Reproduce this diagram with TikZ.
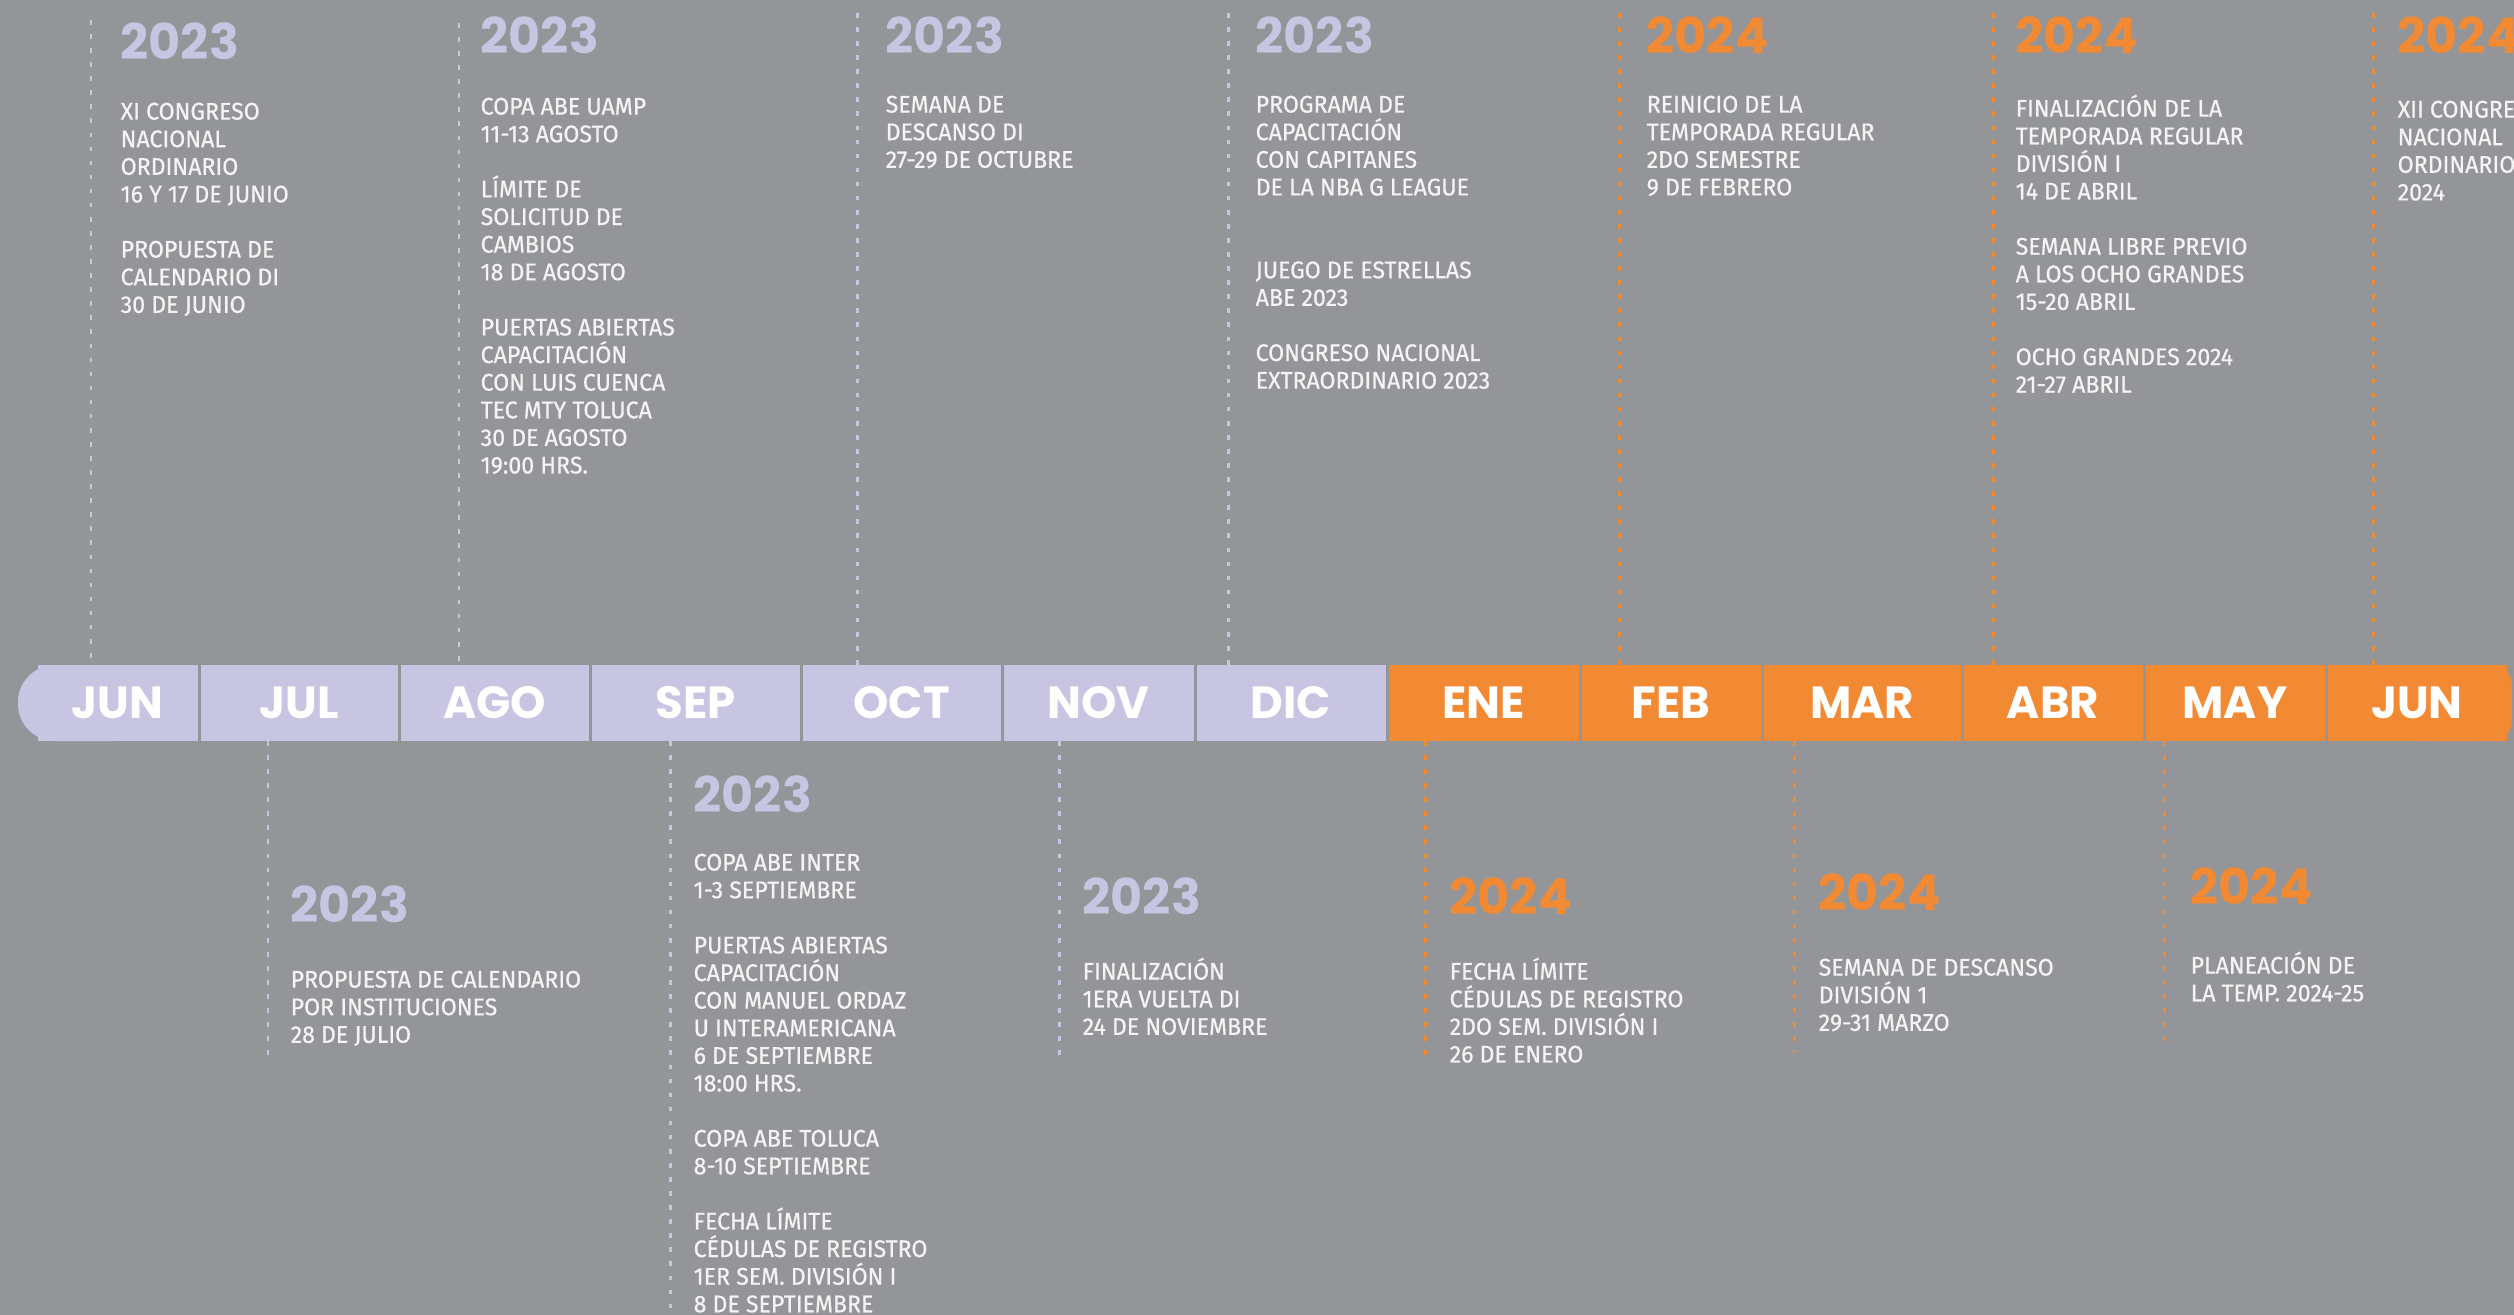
\documentclass[tikz,border=0pt]{standalone}
\usepackage{fontspec}
\newfontfamily\bodyfont{Fira Sans}[FakeStretch=0.96, FakeBold=0.6]
\newfontfamily\yearfont{Poppins}
\definecolor{bggray}{HTML}{939598}
\definecolor{lav}{HTML}{C8C5E2}
\definecolor{org}{HTML}{F28A34}
\definecolor{txt}{HTML}{F4F4F4}

\tikzset{
  tick23/.style={draw=lav, line width=0.85pt, dash pattern=on 1.3pt off 2.7pt},
  tick24/.style={tick23, draw=org},
  year23/.style={anchor=base west, inner sep=0pt, text=lav,
    font=\yearfont\bfseries\fontsize{14}{14}\selectfont},
  year24/.style={year23, text=org},
  event/.style={anchor=north west, inner sep=0pt, align=left, text=txt,
    font=\bodyfont\fontsize{6.85}{7.85}\selectfont},
  month/.style={inner sep=0pt, minimum height=0.76cm, text=white,
    font=\yearfont\bfseries\fontsize{12.8}{12.8}\selectfont}
}

\begin{document}
\begin{tikzpicture}[x=0.01cm, y=-0.01cm]
  \useasboundingbox (0,0) rectangle (2514,1315);
  \fill[bggray] (0,0) rectangle (2514,1315);
  \clip (0,0) rectangle (2514,1315);

  \coordinate (bartop) at (0,665);
  \coordinate (barbot) at (0,741);

  % dotted ticks above the bar
  \coordinate (up1) at (91,20);
  \coordinate (up2) at (459,23);
  \coordinate (up3) at (857,13);
  \coordinate (up4) at (1228,13);
  \coordinate (up5) at (1619,13);
  \coordinate (up6) at (1993,13);
  \coordinate (up7) at (2373,13);
  \draw[tick23] (up1) -- (up1 |- bartop);
  \draw[tick23] (up2) -- (up2 |- bartop);
  \draw[tick23] (up3) -- (up3 |- bartop);
  \draw[tick23] (up4) -- (up4 |- bartop);
  \draw[tick24] (up5) -- (up5 |- bartop);
  \draw[tick24] (up6) -- (up6 |- bartop);
  \draw[tick24] (up7) -- (up7 |- bartop);

  % dotted ticks below the bar
  \coordinate (dn1) at (268,1061);
  \coordinate (dn2) at (670,1315);
  \coordinate (dn3) at (1059,1056);
  \coordinate (dn4) at (1425,1061);
  \coordinate (dn5) at (1794,1052);
  \coordinate (dn6) at (2164,1045);
  \draw[tick23] (dn1 |- barbot) -- (dn1);
  \draw[tick23] (dn2 |- barbot) -- (dn2);
  \draw[tick23] (dn3 |- barbot) -- (dn3);
  \draw[tick24] (dn4 |- barbot) -- (dn4);
  \draw[tick24] (dn5 |- barbot) -- (dn5);
  \draw[tick24] (dn6 |- barbot) -- (dn6);

  % month bar
  \fill[lav, rounded corners=0.37cm] (18,665) rectangle (150,741);
  \fill[org, rounded corners=0.2cm] (2400,665) rectangle (2512,741);
  \foreach \nm/\xa/\xb/\txt/\col in {jun/36/199/JUN/lav, jul/199/399/JUL/lav,
      ago/399/590/AGO/lav, sep/590/801/SEP/lav, oct/801/1002/OCT/lav,
      nov/1002/1195/NOV/lav, dic/1195/1387/DIC/lav, ene/1387/1580/ENE/org,
      feb/1580/1762/FEB/org, mar/1762/1962/MAR/org, abr/1962/2144/ABR/org,
      may/2144/2326/MAY/org, junb/2326/2508/JUN/org}
    \node[month, fill=\col, minimum width={(\xb-\xa-3)*0.01cm}] (\nm) at ({(\xa+\xb)/2},703) {\txt};

  % events above
  \node[year23] (yr1) at (120,59) {2023};
  \node[event] (ev1) at (120,102) {XI CONGRESO\\NACIONAL\\ORDINARIO\\16 Y 17 DE JUNIO\\[7.85pt]PROPUESTA DE\\CALENDARIO DI\\30 DE JUNIO};
  \node[year23] (yr2) at (480,53) {2023};
  \node[event] (ev2) at (480,97) {COPA ABE UAMP\\11-13 AGOSTO\\[7.85pt]LÍMITE DE\\SOLICITUD DE\\CAMBIOS\\18 DE AGOSTO\\[7.85pt]PUERTAS ABIERTAS\\CAPACITACIÓN\\CON LUIS CUENCA\\TEC MTY TOLUCA\\30 DE AGOSTO\\19:00 HRS.};
  \node[year23] (yr3) at (885,53) {2023};
  \node[event] (ev3) at (885,95) {SEMANA DE\\DESCANSO DI\\27-29 DE OCTUBRE};
  \node[year23] (yr4) at (1255,53) {2023};
  \node[event] (ev4) at (1255,95) {PROGRAMA DE\\CAPACITACIÓN\\CON CAPITANES\\DE LA NBA G LEAGUE\\[15.7pt]JUEGO DE ESTRELLAS\\ABE 2023\\[7.85pt]CONGRESO NACIONAL\\EXTRAORDINARIO 2023};
  \node[year24] (yr5) at (1646,53) {2024};
  \node[event] (ev5) at (1646,95) {REINICIO DE LA\\TEMPORADA REGULAR\\2DO SEMESTRE\\9 DE FEBRERO};
  \node[year24] (yr6) at (2015,53) {2024};
  \node[event] (ev6) at (2015,94) {FINALIZACIÓN DE LA\\TEMPORADA REGULAR\\DIVISIÓN I\\14 DE ABRIL\\[7.85pt]SEMANA LIBRE PREVIO\\A LOS OCHO GRANDES\\15-20 ABRIL\\[7.85pt]OCHO GRANDES 2024\\21-27 ABRIL};
  \node[year24] (yr7) at (2397,53) {2024};
  \node[event] (ev7) at (2397,100) {XII CONGRESO\\NACIONAL\\ORDINARIO\\2024};

  % events below
  \node[year23] (yr8) at (290,922) {2023};
  \node[event] (ev8) at (290,970) {PROPUESTA DE CALENDARIO\\POR INSTITUCIONES\\28 DE JULIO};
  \node[year23] (yr9) at (693,812) {2023};
  \node[event] (ev9) at (693,853) {COPA ABE INTER\\1-3 SEPTIEMBRE\\[7.85pt]PUERTAS ABIERTAS\\CAPACITACIÓN\\CON MANUEL ORDAZ\\U INTERAMERICANA\\6 DE SEPTIEMBRE\\18:00 HRS.\\[7.85pt]COPA ABE TOLUCA\\8-10 SEPTIEMBRE\\[7.85pt]FECHA LÍMITE\\CÉDULAS DE REGISTRO\\1ER SEM. DIVISIÓN I\\8 DE SEPTIEMBRE};
  \node[year23] (yr10) at (1082,914) {2023};
  \node[event] (ev10) at (1082,957) {FINALIZACIÓN\\1ERA VUELTA DI\\24 DE NOVIEMBRE};
  \node[year24] (yr11) at (1449,914) {2024};
  \node[event] (ev11) at (1449,957) {FECHA LÍMITE\\CÉDULAS DE REGISTRO\\2DO SEM. DIVISIÓN I\\26 DE ENERO};
  \node[year24] (yr12) at (1818,910) {2024};
  \node[event] (ev12) at (1818,958) {SEMANA DE DESCANSO\\DIVISIÓN 1\\29-31 MARZO};
  \node[year24] (yr13) at (2190,904) {2024};
  \node[event] (ev13) at (2190,951) {PLANEACIÓN DE\\LA TEMP. 2024-25};
\end{tikzpicture}
\end{document}
